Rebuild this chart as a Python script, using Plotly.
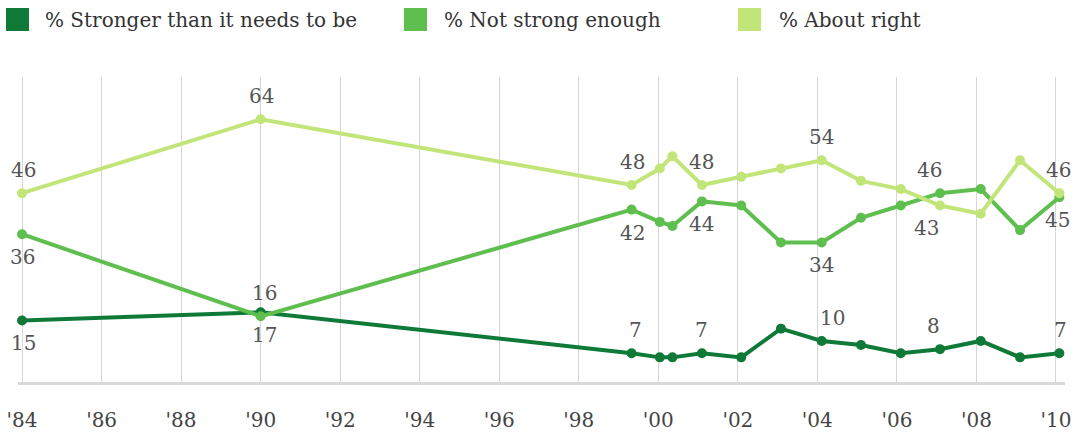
import plotly.graph_objects as go

# Survey dates (x) and percentages for each response
dates = ["1984-01-01", "1990-01-01", "1999-05-01", "2000-01-15", "2000-05-10",
         "2001-02-05", "2002-02-01", "2003-02-01", "2004-02-10", "2005-02-05",
         "2006-02-05", "2007-02-01", "2008-02-10", "2009-02-05", "2010-02-01"]

stronger = [15, 17, 7, 6, 6, 7, 6, 13, 10, 9, 7, 8, 10, 6, 7]
not_enough = [36, 16, 42, 39, 38, 44, 43, 34, 34, 40, 43, 46, 47, 37, 45]
about_right = [46, 64, 48, 52, 55, 48, 50, 52, 54, 49, 47, 43, 41, 54, 46]

series_names = ["% Stronger than it needs to be", "% Not strong enough", "% About right"]
series_colors = ["#0f7a38", "#5fbf4e", "#c2e57a"]

# Labelled points: index -> (side, horizontal nudge in px)
stronger_labels = {0: ("below", 1), 1: ("below", 4), 2: ("above", 4), 5: ("above", 0),
                   8: ("above", 11), 11: ("above", -7), 14: ("above", 1)}
not_enough_labels = {0: ("below", 0), 1: ("above", 4), 2: ("below", 1), 5: ("below", 0),
                     8: ("below", 0), 11: ("above", -11), 14: ("below", -2)}
about_right_labels = {0: ("above", 1), 1: ("above", 1), 2: ("above", 1), 5: ("above", 0),
                      8: ("above", 0), 11: ("below", -14), 14: ("above", -1)}

tick_vals = ["1984-01-01", "1986-01-01", "1988-01-01", "1990-01-01", "1992-01-01",
             "1994-01-01", "1996-01-01", "1998-01-01", "2000-01-01", "2002-01-01",
             "2004-01-01", "2006-01-01", "2008-01-01", "2010-01-01"]
tick_text = ["'84", "'86", "'88", "'90", "'92", "'94", "'96", "'98",
             "'00", "'02", "'04", "'06", "'08", "'10"]

FONT = "DejaVu Serif"
LABEL_COLOR = "#555555"

fig = go.Figure()

# Plot area in pixels, used to place the legend in paper coordinates
W, H = 1076, 435
L, R, T, B = 18, 11, 77, 53
pw, ph = W - L - R, H - T - B


def px_x(x):
    return (x - L) / pw


def px_y(y):
    return (H - B - y) / ph


for values, name, color, labels in zip(
        [stronger, not_enough, about_right], series_names, series_colors,
        [stronger_labels, not_enough_labels, about_right_labels]):
    fig.add_trace(go.Scatter(
        x=dates, y=values, name=name, mode="lines+markers",
        line=dict(color=color, width=4),
        marker=dict(color=color, size=10),
        showlegend=False, cliponaxis=False,
    ))
    for i, (side, dx) in labels.items():
        fig.add_annotation(
            x=dates[i], y=values[i], text=str(values[i]), showarrow=False,
            xanchor="center", yanchor="middle",
            yshift=23 if side == "above" else -23, xshift=dx,
            font=dict(family=FONT, size=20, color=LABEL_COLOR),
        )

# Legend: colour squares with series names across the top
legend_items = [(6, 43), (404, 442), (738, 777)]
for (sx, tx), name, color in zip(legend_items, series_names, series_colors):
    fig.add_shape(type="rect", xref="paper", yref="paper",
                  x0=px_x(sx), x1=px_x(sx + 23), y0=px_y(31), y1=px_y(8),
                  fillcolor=color, line=dict(width=0))
    fig.add_annotation(xref="paper", yref="paper", x=px_x(tx), y=px_y(20),
                       text=name, showarrow=False, xanchor="left", yanchor="middle",
                       font=dict(family=FONT, size=20, color="#333333"))

fig.update_layout(
    width=W, height=H,
    margin=dict(l=L, r=R, t=T, b=B, autoexpand=False),
    paper_bgcolor="white", plot_bgcolor="white",
    font=dict(family=FONT),
    xaxis=dict(
        type="date", range=["1983-11-25", "2010-03-25"],
        tickvals=tick_vals, ticktext=tick_text,
        showgrid=True, gridcolor="#d6d6d6", gridwidth=1,
        showline=True, linecolor="#d9d9d9", linewidth=3,
        ticks="", ticklabelstandoff=18, automargin=False,
        tickfont=dict(family=FONT, size=20, color="#444444"),
        zeroline=False,
    ),
    yaxis=dict(range=[0, 74.3], showgrid=False, showticklabels=False,
               zeroline=False, showline=False, ticks="", automargin=False),
)

fig.write_html("out.html")
